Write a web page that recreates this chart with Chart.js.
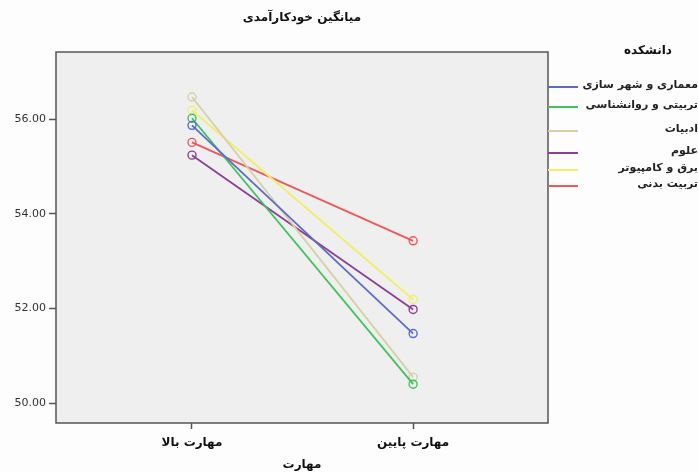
<!DOCTYPE html>
<html>
<head>
<meta charset="utf-8">
<script src="https://cdn.jsdelivr.net/npm/chart.js@4"></script>
<style>
  body { margin: 0; background: #fdfdfd; }
  #caja { width: 698px; height: 472px; position: relative; }
</style>
</head>
<body>
<div id="caja"><canvas id="grafico"></canvas></div>
<script>
const habilidades = ['مهارت بالا', 'مهارت پایین'];

const facultades = ['معماری و شهر سازی', 'تربیتی و روانشناسی', 'ادبیات', 'علوم', 'برق و کامپیوتر', 'تربیت بدنی'];
const colores = ['#5b6cc6', '#3ec45c', '#d6d0a6', '#8e3e98', '#f2ee6a', '#f05858'];

const arquitectura = [55.87, 51.47];
const psicologia = [56.02, 50.40];
const literatura = [56.47, 50.55];
const ciencias = [55.24, 51.98];
const computacion = [56.19, 52.19];
const deporte = [55.51, 53.43];

const series = [arquitectura, psicologia, literatura, ciencias, computacion, deporte];

const fuente = "'DejaVu Sans', sans-serif";

const marcoPlugin = {
  id: 'marco',
  beforeDraw(chart) {
    const { ctx, chartArea: a } = chart;
    ctx.save();
    ctx.fillStyle = '#efefef';
    ctx.fillRect(a.left, a.top, a.right - a.left, a.bottom - a.top);
    ctx.restore();
  },
  afterDraw(chart) {
    const { ctx, chartArea: a } = chart;
    ctx.save();
    ctx.strokeStyle = '#555';
    ctx.lineWidth = 1.5;
    ctx.strokeRect(a.left, a.top, a.right - a.left, a.bottom - a.top);

    // titulo centrado sobre el area
    ctx.fillStyle = '#111';
    ctx.font = 'bold 12px ' + fuente;
    ctx.textAlign = 'center';
    ctx.textBaseline = 'middle';
    ctx.fillText('میانگین خودکارآمدی', (a.left + a.right) / 2, 18);

    // leyenda a la derecha
    ctx.fillText('دانشکده', 648, 51);
    const filas = [87, 107, 131, 153, 170, 186];
    ctx.font = 'bold 11px ' + fuente;
    ctx.textAlign = 'right';
    chart.data.datasets.forEach((ds, i) => {
      const y = filas[i];
      ctx.strokeStyle = ds.borderColor;
      ctx.lineWidth = 2;
      ctx.beginPath();
      ctx.moveTo(a.right, y);
      ctx.lineTo(a.right + 30, y);
      ctx.stroke();
      ctx.fillStyle = '#222';
      ctx.fillText(ds.label, 698, y - 2);
    });
    ctx.restore();
  }
};

const ctx = document.getElementById('grafico').getContext('2d');

window.chartMedias = new Chart(ctx, {
  type: 'line',
  data: {
    datasets: series.map((valores, i) => ({
      label: facultades[i],
      data: valores.map((v, j) => ({ x: j, y: v })),
      borderColor: colores[i],
      backgroundColor: 'transparent',
      borderWidth: 1.8,
      tension: 0,
      pointStyle: 'circle',
      pointRadius: 4,
      pointBorderWidth: 1.4,
      pointBackgroundColor: 'transparent'
    }))
  },
  options: {
    responsive: true,
    maintainAspectRatio: false,
    animation: false,
    layout: {
      padding: { top: 52, right: 150, bottom: 0, left: 0 }
    },
    plugins: {
      legend: { display: false },
      title: { display: false },
      tooltip: { enabled: false }
    },
    scales: {
      x: {
        type: 'linear',
        min: -0.615,
        max: 1.61,
        afterBuildTicks: (scale) => {
          scale.ticks = habilidades.map((_, i) => ({ value: i }));
        },
        afterFit: (scale) => { scale.height = 49; },
        grid: {
          drawOnChartArea: false,
          drawTicks: true,
          tickLength: 6,
          tickWidth: 1.5,
          tickColor: '#555'
        },
        border: { display: false },
        ticks: {
          padding: 7,
          color: '#111',
          font: { family: fuente, size: 12, weight: 'bold' },
          callback: (v) => habilidades[v]
        },
        title: {
          display: true,
          text: 'مهارت',
          color: '#111',
          padding: { top: 0, bottom: 0 },
          font: { family: fuente, size: 12, weight: 'bold' }
        }
      },
      y: {
        min: 49.58,
        max: 57.42,
        afterBuildTicks: (scale) => {
          scale.ticks = [50, 52, 54, 56].map(v => ({ value: v }));
        },
        afterFit: (scale) => { scale.width = 56; },
        grid: {
          drawOnChartArea: false,
          drawTicks: true,
          tickLength: 7,
          tickWidth: 1.5,
          tickColor: '#555'
        },
        border: { display: false },
        ticks: {
          padding: 3,
          color: '#333',
          font: { family: fuente, size: 11 },
          callback: (v) => v.toFixed(2)
        }
      }
    }
  },
  plugins: [marcoPlugin]
});
</script>
</body>
</html>
